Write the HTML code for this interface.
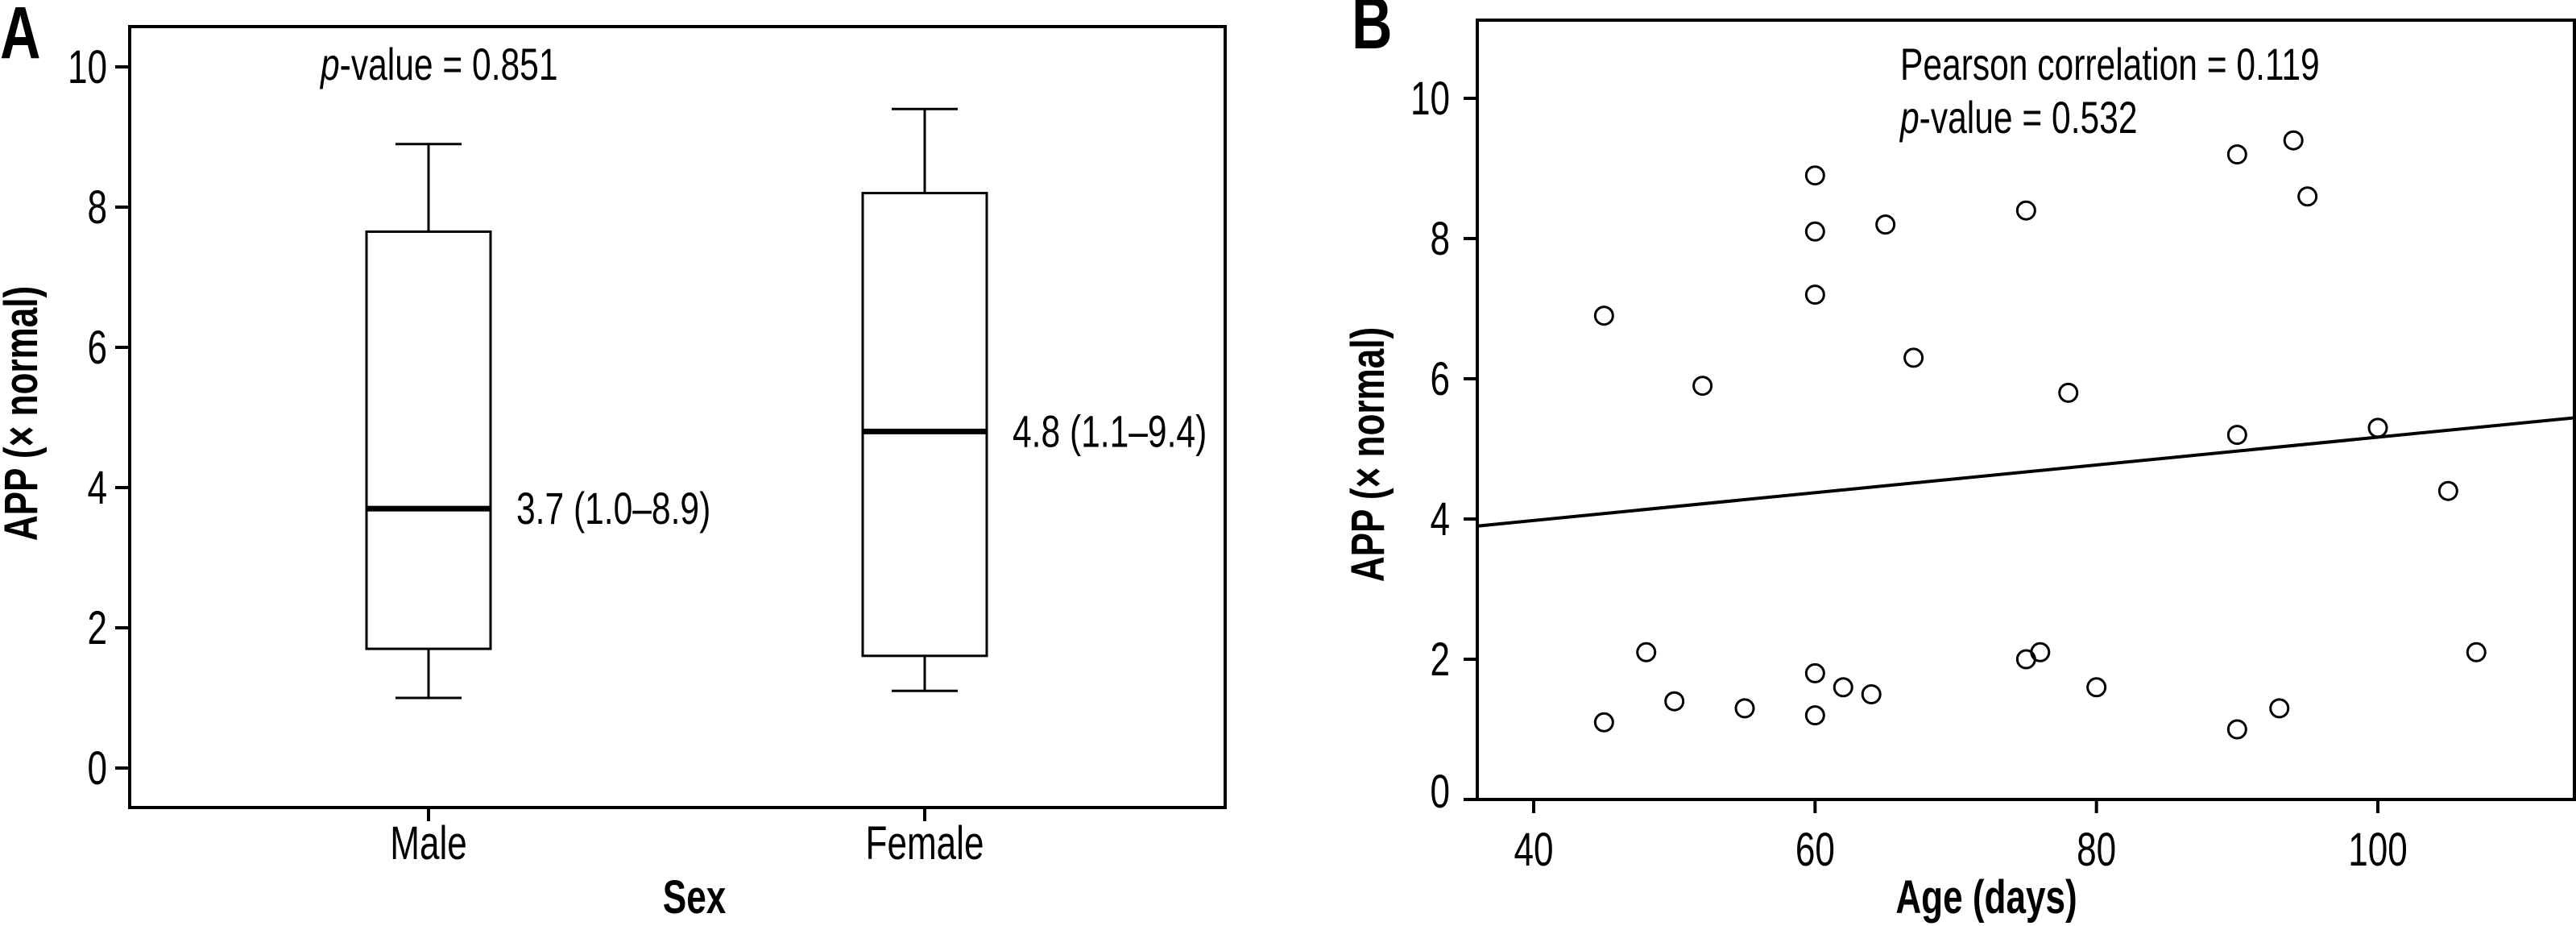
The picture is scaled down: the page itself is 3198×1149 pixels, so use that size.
<!DOCTYPE html>
<html><head><meta charset="utf-8"><style>
html,body{margin:0;padding:0;background:#fff}
svg{display:block}
text{font-family:"Liberation Sans Narrow","Liberation Sans",sans-serif;fill:#000}
</style></head><body>
<svg id="fig" width="3198" height="1149" viewBox="0 0 3198 1149" xmlns="http://www.w3.org/2000/svg">
<g id="pa"></g>
<g id="pb"></g>
</svg>
<script>
// Panel A data
const sexCategories = ["Male","Female"];
const boxMin = [1.0, 1.1];
const boxQ1 = [1.7, 1.6];
const boxMedian = [3.7, 4.8];
const boxQ3 = [7.65, 8.2];
const boxMax = [8.9, 9.4];
const boxLabels = ["3.7 (1.0\u20138.9)", "4.8 (1.1\u20139.4)"];
const aTicks = [0,2,4,6,8,10];
// Panel B data
const ageValues = [45,45,48,50,52,55,60,60,60,60,60,62,64,65,67,75,75,76,78,80,90,90,90,93,94,95,100,105,107];
const appValues = [6.9,1.1,2.1,1.4,5.9,1.3,8.9,8.1,7.2,1.8,1.2,1.6,1.5,8.2,6.3,8.4,2.0,2.1,5.8,1.6,9.2,5.2,1.0,1.3,9.4,8.6,5.3,4.4,2.1];
const bXTicks = [40,60,80,100];
const bYTicks = [0,2,4,6,8,10];
const regStart = [36, 3.9];
const regEnd = [114.3, 5.45];

const NS="http://www.w3.org/2000/svg";
const SX=0.76;
function mk(parent,tag,attrs,txt){const e=document.createElementNS(NS,tag);for(const k in attrs)e.setAttribute(k,attrs[k]);if(txt!==undefined)e.textContent=txt;parent.appendChild(e);return e;}
function txt(parent,x,y,s,size,anchor,bold){
  const g=mk(parent,'g',{transform:`translate(${x},${y}) scale(${SX},1)`});
  const t=mk(g,'text',{x:0,y:0,'font-size':size,'text-anchor':anchor||'start','font-weight':bold?'bold':'normal'},s);
  return [g,t];
}
// ---------- Panel A ----------
const pa=document.getElementById('pa');
const aL=161,aR=1521,aT=33,aB=1002;
const aY=v=>953-(953-83)*v/10;
const aX=i=>[532,1148][i];
let r=mk(pa,'rect',{x:aL,y:aT,width:aR-aL,height:aB-aT,fill:'none',stroke:'#000','stroke-width':4});

aTicks.forEach(v=>{
  let l=mk(pa,'line',{x1:aL-18,x2:aL,y1:aY(v),y2:aY(v),stroke:'#000','stroke-width':4});
  
  let [g,t]=txt(pa,133,aY(v)+20,String(v),58,'end');
  
});
sexCategories.forEach((c,i)=>{
  const x=aX(i);
  let l=mk(pa,'line',{x1:x,x2:x,y1:aB,y2:aB+17,stroke:'#000','stroke-width':4});
  
  let [g,t]=txt(pa,x,1066,c,58,'middle');
  
  const hw=77,cw=41;
  const bg=mk(pa,'g',{});
  
  mk(bg,'line',{x1:x,x2:x,y1:aY(boxMax[i]),y2:aY(boxQ3[i]),stroke:'#000','stroke-width':3});
  mk(bg,'line',{x1:x,x2:x,y1:aY(boxQ1[i]),y2:aY(boxMin[i]),stroke:'#000','stroke-width':3});
  mk(bg,'line',{x1:x-cw,x2:x+cw,y1:aY(boxMax[i]),y2:aY(boxMax[i]),stroke:'#000','stroke-width':3});
  mk(bg,'line',{x1:x-cw,x2:x+cw,y1:aY(boxMin[i]),y2:aY(boxMin[i]),stroke:'#000','stroke-width':3});
  mk(bg,'rect',{x:x-hw,y:aY(boxQ3[i]),width:2*hw,height:aY(boxQ1[i])-aY(boxQ3[i]),fill:'#fff',stroke:'#000','stroke-width':3});
  mk(bg,'line',{x1:x-hw,x2:x+hw,y1:aY(boxMedian[i]),y2:aY(boxMedian[i]),stroke:'#000','stroke-width':7});
  let [g2,t2]=txt(pa,x+hw+32,aY(boxMedian[i])+19,boxLabels[i],56,'start');
  
});
{let [g,t]=txt(pa,398,99,'',56,'start');
 mk(t,'tspan',{'font-style':'italic'},'p');mk(t,'tspan',{},'-value = 0.851');
 }
{let [g,t]=txt(pa,862,1133,'Sex',58,'middle',true);}
{const g=mk(pa,'g',{transform:`translate(46,513) rotate(-90) scale(${SX},1)`});
 const t=mk(g,'text',{x:0,y:0,'font-size':58,'font-weight':'bold','text-anchor':'middle'},'APP (\u00d7 normal)');
 }
{let [g,t]=txt(pa,0,72,'A',92,'start',true);}

// ---------- Panel B ----------
const pb=document.getElementById('pb');
const bL=1834,bR=3196,bT=25,bB=992;
const bX=v=>1904+(2952-1904)*(v-40)/60;
const bY=v=>992-(992-122)*v/10;
r=mk(pb,'rect',{x:bL,y:bT,width:bR-bL,height:bB-bT,fill:'none',stroke:'#000','stroke-width':4});

bYTicks.forEach(v=>{
  let l=mk(pb,'line',{x1:bL-17,x2:bL,y1:bY(v),y2:bY(v),stroke:'#000','stroke-width':4});
  
  let [g,t]=txt(pb,1800,Math.min(bY(v)+20,bB+10),String(v),58,'end');
  
});
bXTicks.forEach(v=>{
  let l=mk(pb,'line',{x1:bX(v),x2:bX(v),y1:bB,y2:bB+17,stroke:'#000','stroke-width':4});
  
  let [g,t]=txt(pb,bX(v),1074,String(v),58,'middle');
  
});
{let l=mk(pb,'line',{x1:bX(regStart[0]),y1:bY(regStart[1]),x2:bX(regEnd[0]),y2:bY(regEnd[1]),stroke:'#000','stroke-width':4});
 }
ageValues.forEach((a,i)=>{
  let c=mk(pb,'circle',{cx:bX(a),cy:bY(appValues[i]),r:11,fill:'none',stroke:'#000','stroke-width':3});
  
});
{let [g,t]=txt(pb,2359,99,'Pearson correlation = 0.119',56,'start');}
{let [g,t]=txt(pb,2359,165,'',56,'start');
 mk(t,'tspan',{'font-style':'italic'},'p');mk(t,'tspan',{},'-value = 0.532');
 }
{let [g,t]=txt(pb,2466,1133,'Age (days)',58,'middle',true);}
{const g=mk(pb,'g',{transform:`translate(1718,564) rotate(-90) scale(${SX},1)`});
 const t=mk(g,'text',{x:0,y:0,'font-size':58,'font-weight':'bold','text-anchor':'middle'},'APP (\u00d7 normal)');
 }
{let [g,t]=txt(pb,1678,60,'B',92,'start',true);}
</script>
</body></html>
